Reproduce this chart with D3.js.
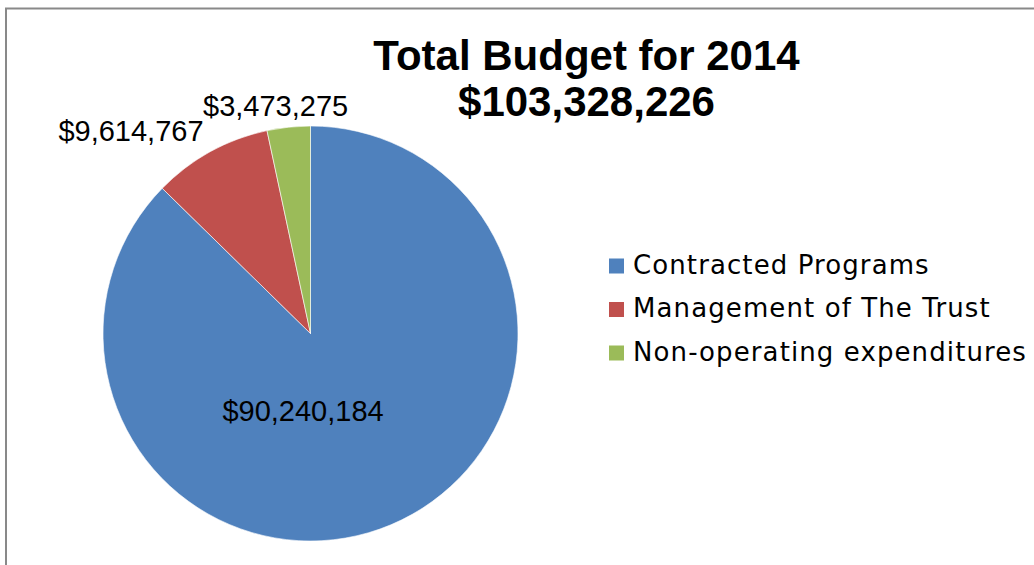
<!DOCTYPE html>
<html>
<head>
<meta charset="utf-8">
<script src="https://cdn.jsdelivr.net/npm/d3@7"></script>
<style>
  html, body { margin: 0; padding: 0; background: #fff; }
  svg { display: block; }
</style>
</head>
<body>
<svg id="chart" width="1034" height="565"></svg>
<script>
// Budget breakdown for 2014
const categories = ["Contracted Programs", "Management of The Trust", "Non-operating expenditures"];
const amounts = [90240184, 9614767, 3473275];
const colors = ["#4F81BD", "#C0504D", "#9BBB59"];
const titleLines = ["Total Budget for 2014", "$103,328,226"];

const svg = d3.select("#chart");
const W = 1034, H = 565;

// chart frame (extends past the right and bottom edge)
svg.append("rect")
  .attr("x", 6).attr("y", 8.5)
  .attr("width", W + 20).attr("height", H + 20)
  .attr("fill", "#fff")
  .attr("stroke", "#898989").attr("stroke-width", 2);

const cx = 310.5, cy = 333.5, R = 207.5;

const pie = d3.pie().sort(null).value(d => d.value).startAngle(0).endAngle(2 * Math.PI);
const data = categories.map((c, i) => ({ name: c, value: amounts[i], color: colors[i] }));
const arcs = pie(data);
const arc = d3.arc().innerRadius(0).outerRadius(R);

const g = svg.append("g").attr("transform", `translate(${cx},${cy})`);
g.selectAll("path.slice")
  .data(arcs)
  .join("path")
  .attr("class", "slice")
  .attr("d", arc)
  .attr("fill", d => d.data.color)
  .attr("stroke", "#ffffff")
  .attr("stroke-width", 0.6);

const fmt = d3.format("$,");

// label placement: first slice inside, the small ones outside
const labelLayout = [
  { r: 84, anchor: "middle", dx: -40, dy: 10 },
  { r: 230, anchor: "end", dx: 4, dy: 9 },
  { r: 227, anchor: "middle", dx: -11, dy: 8 }
];

g.selectAll("text.val")
  .data(arcs)
  .join("text")
  .attr("class", "val")
  .each(function (d, i) {
    const mid = (d.startAngle + d.endAngle) / 2;
    const L = labelLayout[i];
    const x = Math.sin(mid) * L.r + L.dx;
    const y = -Math.cos(mid) * L.r + L.dy;
    d3.select(this).attr("x", x).attr("y", y).attr("text-anchor", L.anchor);
  })
  .attr("font-family", "'Liberation Sans', Arial, sans-serif")
  .attr("font-size", 29)
  .attr("fill", "#000")
  .text(d => fmt(d.data.value));

// title
const title = svg.append("text")
  .attr("x", 586.5).attr("y", 70)
  .attr("text-anchor", "middle")
  .attr("font-family", "'Liberation Sans', Arial, sans-serif")
  .attr("font-weight", "bold")
  .attr("font-size", 42)
  .attr("fill", "#000");
title.selectAll("tspan")
  .data(titleLines)
  .join("tspan")
  .attr("x", 586.5)
  .attr("dy", (d, i) => i === 0 ? 0 : 46)
  .text(d => d);

// legend
const legend = svg.append("g").attr("transform", "translate(609,273.5)");
const item = legend.selectAll("g")
  .data(data)
  .join("g")
  .attr("transform", (d, i) => `translate(0,${i * 43.5})`);
item.append("rect")
  .attr("x", 0).attr("y", -15)
  .attr("width", 15).attr("height", 15)
  .attr("fill", d => d.color);
item.append("text")
  .attr("x", 24).attr("y", 0)
  .attr("font-family", "'DejaVu Sans', sans-serif")
  .attr("font-size", 26)
  .attr("letter-spacing", 1.1)
  .attr("fill", "#000")
  .text(d => d.name);
</script>
</body>
</html>
